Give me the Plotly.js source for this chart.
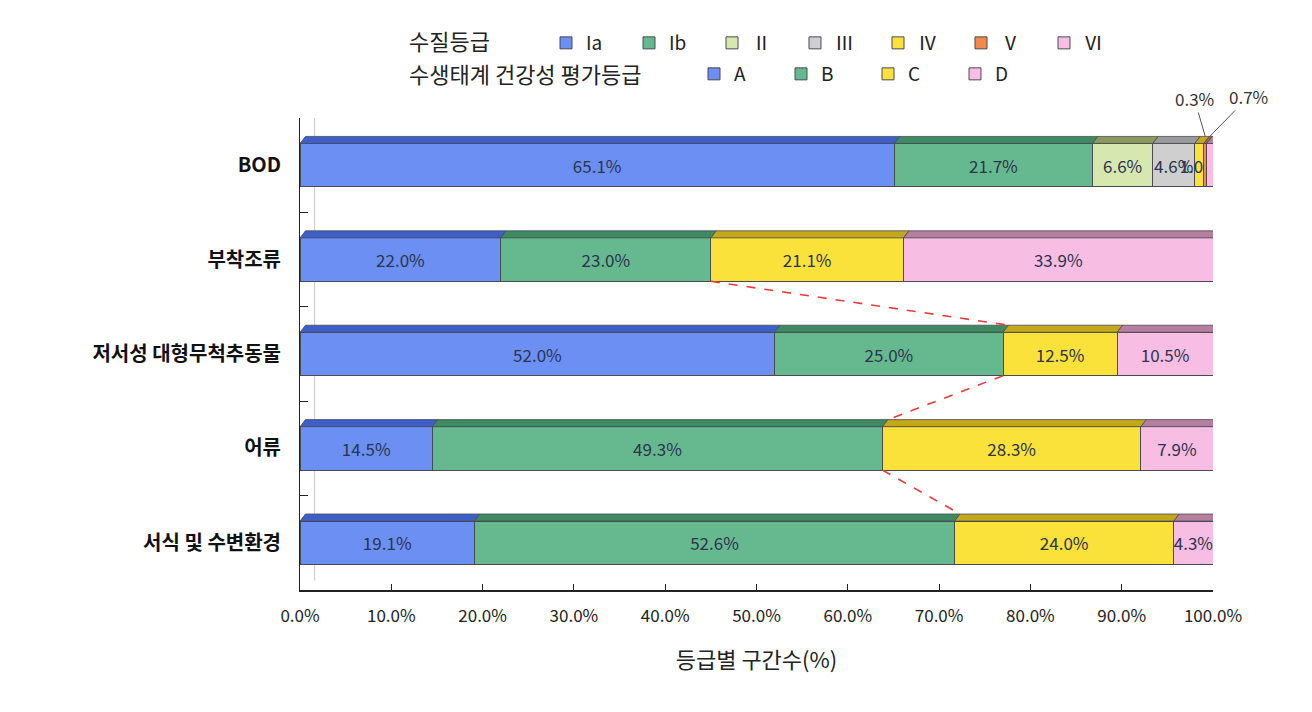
<!DOCTYPE html>
<html><head><meta charset="utf-8">
<script src="https://cdn.plot.ly/plotly-3.0.1.min.js"></script>
<style>html,body{margin:0;padding:0;background:#fff}</style>
</head><body><div id="chart" style="width:1312px;height:712px"></div>
<script>
// ---- data ----
const categories = ["BOD", "부착조류", "저서성 대형무척추동물", "어류", "서식 및 수변환경"];
// 수질등급 (BOD row only)
const gradeIa  = [65.1, null, null, null, null];
const gradeIb  = [21.7, null, null, null, null];
const gradeII  = [6.6,  null, null, null, null];
const gradeIII = [4.6,  null, null, null, null];
const gradeIV  = [1.0,  null, null, null, null];
const gradeV   = [0.3,  null, null, null, null];
const gradeVI  = [0.7,  null, null, null, null];
// 수생태계 건강성 평가등급
const gradeA = [null, 22.0, 52.0, 14.5, 19.1];
const gradeB = [null, 23.0, 25.0, 49.3, 52.6];
const gradeC = [null, 21.1, 12.5, 28.3, 24.0];
const gradeD = [null, 33.9, 10.5, 7.9, 4.3];
const xTickVals = [0, 10, 20, 30, 40, 50, 60, 70, 80, 90, 100];

// ---- styling ----
const FONT = "Noto Sans CJK KR, Noto Sans, sans-serif";
const series = [
  {name: "Ia",  legend: "legend",  vals: gradeIa,  color: "#6b8ff3", top: "#3f5fc8", text: true},
  {name: "Ib",  legend: "legend",  vals: gradeIb,  color: "#66b98f", top: "#3d8a63", text: true},
  {name: "Ⅱ",  legend: "legend",  vals: gradeII,  color: "#d6e8b0", top: "#8a9a5a", text: true},
  {name: "Ⅲ",  legend: "legend",  vals: gradeIII, color: "#cfcfcf", top: "#9a9a9a", text: true},
  {name: "Ⅳ",  legend: "legend",  vals: gradeIV,  color: "#fbe23a", top: "#c4a81a", text: true},
  {name: "Ⅴ",  legend: "legend",  vals: gradeV,   color: "#f08a4a", top: "#b8602a", text: false},
  {name: "Ⅵ",  legend: "legend",  vals: gradeVI,  color: "#f7bde2", top: "#b77f9f", text: false},
  {name: "A",   legend: "legend2", vals: gradeA,   color: "#6b8ff3", top: "#3f5fc8", text: true},
  {name: "B",   legend: "legend2", vals: gradeB,   color: "#66b98f", top: "#3d8a63", text: true},
  {name: "C",   legend: "legend2", vals: gradeC,   color: "#fbe23a", top: "#c4a81a", text: true},
  {name: "D",   legend: "legend2", vals: gradeD,   color: "#f7bde2", top: "#b77f9f", text: true}
];
const BAR_W = 0.46;
const DX = 0.6, DY = 0.075;  // pseudo-3D depth (data units)

const traces = series.map(s => ({
  type: "bar", orientation: "h", name: s.name, legend: s.legend,
  y: categories, x: s.vals, width: BAR_W,
  marker: {color: s.color, line: {color: "#4a4a55", width: 1}},
  text: s.text ? s.vals.map(v => v == null ? "" : v.toFixed(1) + "%") : undefined,
  textposition: s.text ? "inside" : "none",
  insidetextanchor: "middle", constraintext: "none", textangle: 0,
  textfont: {family: FONT, size: 17, color: "#2d3350"},
  hoverinfo: "x+y+name"
}));

// pseudo-3D top faces & connectors computed from the data
const shapes = [];
const cum = categories.map(() => 0);
series.forEach(s => {
  s.vals.forEach((v, i) => {
    if (v == null) return;
    const x0 = cum[i], x1 = cum[i] + v, yt = i - BAR_W / 2;
    shapes.push({type: "path", xref: "x", yref: "y", layer: "above",
      path: `M${x0},${yt} L${x0 + DX},${yt - DY} L${x1 + DX},${yt - DY} L${x1},${yt} Z`,
      fillcolor: s.top, line: {color: "#4a4a55", width: 0.8}});
    cum[i] = x1;
  });
});
// dashed connectors between the B/C boundaries
for (let i = 1; i < categories.length - 1; i++) {
  const xa = gradeA[i] + gradeB[i], xb = gradeA[i + 1] + gradeB[i + 1];
  shapes.push({type: "line", xref: "x", yref: "y", layer: "above",
    x0: xa, y0: i + BAR_W / 2, x1: xb + DX, y1: i + 1 - BAR_W / 2 - DY,
    line: {color: "#e83a3a", width: 1.6, dash: "dash"}});
}
// back wall line (decorative)
shapes.push({type: "line", xref: "paper", yref: "paper", x0: 0.016, x1: 0.016, y0: 0.02, y1: 1.0,
  line: {color: "#c8c8c8", width: 1}, layer: "below"});

const vCenter = gradeIa[0] + gradeIb[0] + gradeII[0] + gradeIII[0] + gradeIV[0] + gradeV[0] / 2;
const viCenter = vCenter + gradeV[0] / 2 + gradeVI[0] / 2;
const annotations = [
  {x: vCenter, y: -BAR_W / 2 - DY, xref: "x", yref: "y", text: gradeV[0].toFixed(1) + "%",
   showarrow: true, ax: -11, ay: -38, arrowhead: 0, arrowwidth: 1, arrowcolor: "#555",
   font: {family: FONT, size: 17, color: "#333"}},
  {x: viCenter, y: -BAR_W / 2 - DY, xref: "x", yref: "y", text: gradeVI[0].toFixed(1) + "%",
   showarrow: true, ax: 39, ay: -40, arrowhead: 0, arrowwidth: 1, arrowcolor: "#555",
   font: {family: FONT, size: 17, color: "#333"}},
  {x: 0, y: 1.165, xref: "paper", yref: "paper", text: "수질등급", showarrow: false, borderpad: 0,
   xanchor: "left", yanchor: "middle", font: {family: FONT, size: 22, color: "#222"}},
  {x: 0, y: 1.096, xref: "paper", yref: "paper", text: "수생태계 건강성 평가등급", showarrow: false, borderpad: 0,
   xanchor: "left", yanchor: "middle", font: {family: FONT, size: 22, color: "#222"}}
];
// place legend titles at x = 408px from the left edge of the page
annotations[2].x = annotations[3].x = (408 - 300) / 913;

const layout = {
  width: 1312, height: 712,
  paper_bgcolor: "#fff", plot_bgcolor: "#fff",
  margin: {l: 300, r: 99, t: 118, b: 122},
  barmode: "stack", bargap: 0.54,
  font: {family: FONT, color: "#222"},
  xaxis: {range: [0, 100], tickvals: xTickVals, ticktext: xTickVals.map(v => v.toFixed(1) + "%"),
    showgrid: false, zeroline: false, showline: true, linecolor: "#222", linewidth: 1.5,
    ticks: "inside", ticklen: 6, tickcolor: "#222",
    tickfont: {family: FONT, size: 17, color: "#222"}, ticklabelstandoff: 10,
    title: {text: "등급별 구간수(%)", font: {family: FONT, size: 22, color: "#222"}, standoff: 26}},
  yaxis: {autorange: "reversed", showgrid: false, zeroline: false, showline: true,
    linecolor: "#222", linewidth: 1, ticks: "inside", tickson: "boundaries", ticklen: 8, tickcolor: "#222",
    tickfont: {family: FONT, size: 20, color: "#111", weight: "bold"}, ticklabelstandoff: 14},
  legend: {orientation: "h", traceorder: "normal", xref: "container", yref: "container", x: 546 / 1312, y: 1 - 24 / 712,
    xanchor: "left", yanchor: "top", entrywidth: 38, entrywidthmode: "pixels",
    font: {family: FONT, size: 19, color: "#222"}, itemwidth: 30, bgcolor: "rgba(0,0,0,0)"},
  legend2: {orientation: "h", traceorder: "normal", xref: "container", yref: "container", x: 694 / 1312, y: 1 - 55 / 712,
    xanchor: "left", yanchor: "top", entrywidth: 42, entrywidthmode: "pixels",
    font: {family: FONT, size: 19, color: "#222"}, itemwidth: 30, bgcolor: "rgba(0,0,0,0)"},
  shapes: shapes, annotations: annotations,
  showlegend: true
};

Plotly.newPlot("chart", traces, layout, {displayModeBar: false, responsive: false});
</script></body></html>
